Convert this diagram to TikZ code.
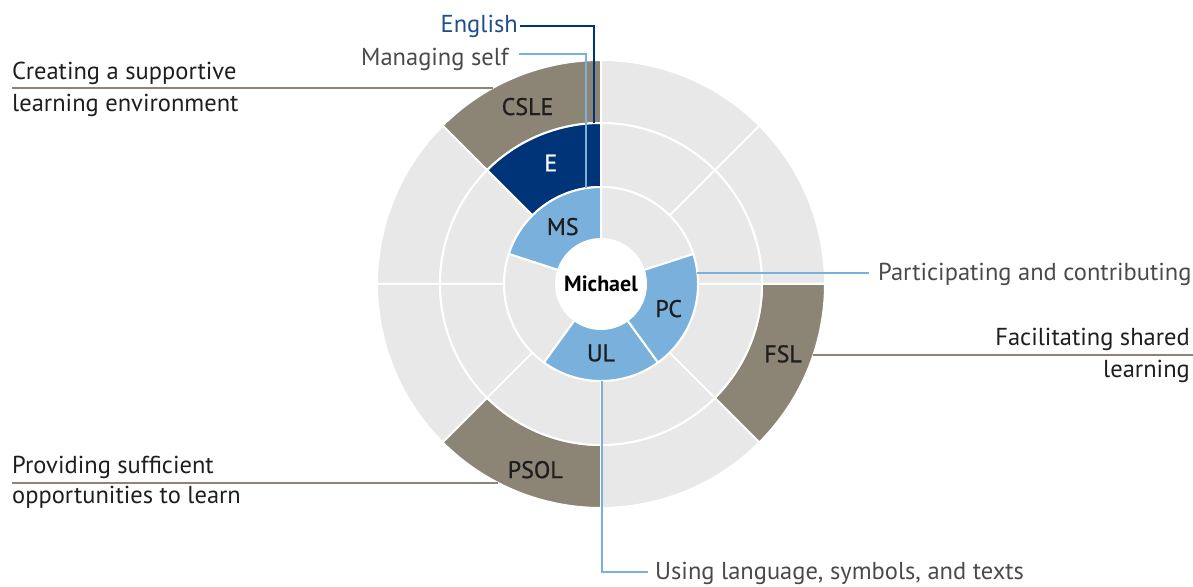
\documentclass[tikz,border=0pt]{standalone}
\usepackage{fontspec}
\setmainfont{PT Sans}
\newfontfamily\segfont[FakeBold=0.8]{PT Sans}
\definecolor{wgray}{HTML}{E8E8E8}
\definecolor{wtaupe}{HTML}{8C8575}
\definecolor{wnavy}{HTML}{003478}
\definecolor{wsky}{HTML}{7AB0DC}
\definecolor{txtdark}{HTML}{1E1E1E}
\definecolor{txtgray}{HTML}{4A4A4A}
\definecolor{txtblue}{HTML}{1F4E8C}
\newcommand\ringseg[5]{%
  \filldraw[segstyle, fill=#1] (#4:#2pt) arc[start angle=#4, end angle=#5, radius=#2pt]
    -- (#5:#3pt) arc[start angle=#5, end angle=#4, radius=#3pt] -- cycle;}
\tikzset{
  segstyle/.style={draw=white, line width=2pt, line join=miter},
  seglabel/.style={font=\segfont\fontsize{24}{28}\selectfont, text=txtdark, inner sep=0pt},
  sidelabel/.style={font=\fontsize{24.5}{29}\selectfont, inner sep=0pt},
  taupeline/.style={draw=wtaupe, line width=2pt},
  skyline/.style={draw=wsky, line width=1.6pt},
  navyline/.style={draw=wnavy, line width=1.6pt},
}
\begin{document}
\begin{tikzpicture}[x=1pt, y=1pt]
\useasboundingbox (0,0) rectangle (1193,586);
\begin{scope}[shift={(601,302)}]
  % outer ring
  \ringseg{wgray}{161}{224}{0}{45}
  \ringseg{wgray}{161}{224}{45}{90}
  \ringseg{wtaupe}{161}{224}{90}{135}
  \ringseg{wgray}{161}{224}{135}{180}
  \ringseg{wgray}{161}{224}{180}{225}
  \ringseg{wtaupe}{161}{224}{225}{270}
  \ringseg{wgray}{161}{224}{270}{315}
  \ringseg{wtaupe}{161}{224}{315}{360}
  % middle ring
  \ringseg{wgray}{97}{161}{0}{45}
  \ringseg{wgray}{97}{161}{45}{90}
  \ringseg{wnavy}{97}{161}{90}{135}
  \ringseg{wgray}{97}{161}{135}{180}
  \ringseg{wgray}{97}{161}{180}{225}
  \ringseg{wgray}{97}{161}{225}{270}
  \ringseg{wgray}{97}{161}{270}{315}
  \ringseg{wgray}{97}{161}{315}{360}
  % inner ring
  \ringseg{wgray}{45}{97}{18}{90}
  \ringseg{wsky}{45}{97}{90}{162}
  \ringseg{wgray}{45}{97}{162}{234}
  \ringseg{wsky}{45}{97}{234}{306}
  \ringseg{wsky}{45}{97}{306}{378}
  \fill[white] (0,0) circle[radius=44pt];
  % segment labels
  \node[font=\bfseries\fontsize{22}{26}\selectfont, text=black] (michael) at (0,0) {Michael};
  \node[seglabel] (csle) at (112.5:192pt) {CSLE};
  \node[seglabel, text=white] (e) at (112.5:131pt) {E};
  \node[seglabel] (ms) at (123.7:69pt) {MS};
  \node[seglabel] (pc) at (340:72pt) {PC};
  \node[seglabel] (ul) at (270:69pt) {UL};
  \node[seglabel] (fsl) at (339:195pt) {FSL};
  \node[seglabel] (psol) at (250.5:197pt) {PSOL};
\end{scope}
% side labels
\node[sidelabel, text=txtblue, anchor=base east] (englab) at (518,553) {English};
\node[sidelabel, text=txtgray, anchor=base east] (mslab) at (509,520) {Managing self};
\node[sidelabel, text=txtdark, anchor=base west] (cslelabA) at (12,506) {Creating a supportive};
\node[sidelabel, text=txtdark, anchor=base west] (cslelabB) at (12,474) {learning environment};
\node[sidelabel, text=txtdark, anchor=base west] (psollabA) at (12,112) {Providing sufficient};
\node[sidelabel, text=txtdark, anchor=base west] (psollabB) at (12,82) {opportunities to learn};
\node[sidelabel, text=txtdark, anchor=base east] (fsllabA) at (1190,240) {Facilitating shared};
\node[sidelabel, text=txtdark, anchor=base east] (fsllabB) at (1190,208) {learning};
\node[sidelabel, text=txtgray, anchor=base west] (pclab) at (878,305) {Participating and contributing};
\node[sidelabel, text=txtgray, anchor=base west] (ullab) at (655,7) {Using language, symbols, and texts};
% connector end points
\coordinate (eTop) at (594,463);
\coordinate (msTop) at (586,398);
\coordinate (csleEdge) at (493,498);
\coordinate (psolEdge) at (498,103);
\coordinate (fslEdge) at (813,231);
\coordinate (fslEnd) at (1193,231);
\coordinate (pcEdge) at (697,313);
\coordinate (ulEdge) at (602,205);
% connectors
\draw[navyline] ([xshift=2pt,yshift=1pt]englab.east) -| (eTop);
\draw[skyline] ([xshift=10pt,yshift=6pt]mslab.east) -| (msTop);
\draw[taupeline] (csleEdge -| cslelabA.west) -- (csleEdge);
\draw[taupeline] (psolEdge -| psollabA.west) -- (psolEdge);
\draw[taupeline] (fslEdge) -- (fslEnd);
\draw[skyline] (pcEdge) -- ([xshift=-9pt]pclab.west |- pcEdge);
\draw[skyline] (ulEdge) |- ([xshift=-7pt,yshift=1pt]ullab.west);
\end{tikzpicture}
\end{document}
